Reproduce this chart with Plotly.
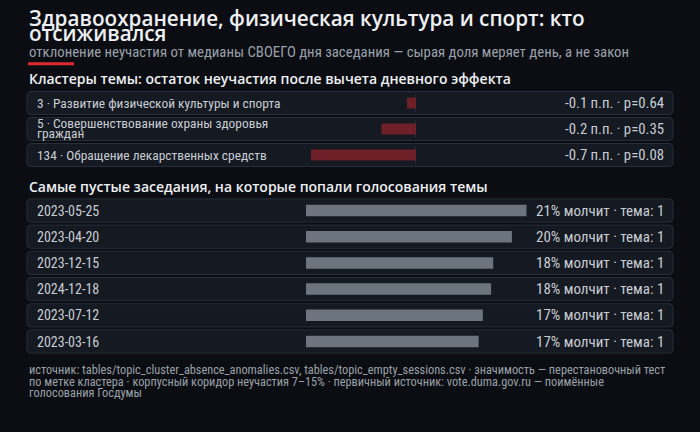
import textwrap
import plotly.graph_objects as go

W, H = 700, 432

# ---------------- data ----------------
title_lines = ["Здравоохранение, физическая культура и спорт: кто", "отсиживался"]
subtitle = "отклонение неучастия от медианы СВОЕГО дня заседания — сырая доля меряет день, а не закон"
cluster_header = "Кластеры темы: остаток неучастия после вычета дневного эффекта"
session_header = "Самые пустые заседания, на которые попали голосования темы"

cluster_ids = [3, 5, 134]
cluster_names = ["Развитие физической культуры и спорта",
                 "Совершенствование охраны здоровья граждан",
                 "Обращение лекарственных средств"]
cluster_delta_pp = [-0.06, -0.23, -0.70]
cluster_p = [0.64, 0.35, 0.08]

session_dates = ["2023-05-25", "2023-04-20", "2023-12-15", "2024-12-18", "2023-07-12", "2023-03-16"]
session_absent_pct = [21.2, 19.8, 18.0, 17.8, 17.0, 16.6]
session_topic_votes = [1, 1, 1, 1, 1, 1]

footer_lines = [
    "источник: tables/topic_cluster_absence_anomalies.csv, tables/topic_empty_sessions.csv · значимость — перестановочный тест",
    "по метке кластера · корпусный коридор неучастия 7–15% · первичный источник: vote.duma.gov.ru — поимённые",
    "голосования Госдумы",
]

# ---------------- style ----------------
BG = "#0b0d12"
PANEL = "#141922"
PANEL_LINE = "#272e3a"
RED_BAR = "#6e1f27"
GRAY_BAR = "#6c757d"
FONT = "Roboto Condensed"
HEAD_FONT = "Open Sans"


def px(x):
    return x / W


def py(y):
    return 1 - y / H


def rounded_rect(x0, y0, x1, y1, r=4):
    X0, X1 = px(x0), px(x1)
    Y0, Y1 = py(y0), py(y1)
    rx, ry = r / W, r / H
    return (f"M{X0 + rx},{Y0} L{X1 - rx},{Y0} Q{X1},{Y0} {X1},{Y0 - ry} "
            f"L{X1},{Y1 + ry} Q{X1},{Y1} {X1 - rx},{Y1} L{X0 + rx},{Y1} "
            f"Q{X0},{Y1} {X0},{Y1 + ry} L{X0},{Y0 - ry} Q{X0},{Y0} {X0 + rx},{Y0} Z")


fig = go.Figure()
shapes = []
ann = []


def text(x, y, s, size, color, anchor="left", family=FONT, weight=400):
    ann.append(dict(x=px(x), y=py(y), xref="paper", yref="paper", text=s, showarrow=False,
                    xanchor=anchor, yanchor="middle", align=anchor,
                    font=dict(family=family, size=size, color=color, weight=weight)))


# title + subtitle
text(27, 18.3, title_lines[0], 20.7, "#eef0f3", family=HEAD_FONT, weight=600)
text(27, 32.5, title_lines[1], 20.7, "#eef0f3", family=HEAD_FONT, weight=600)
text(27, 52, subtitle, 14.8, "#9aa1ab")
shapes.append(dict(type="rect", xref="paper", yref="paper", x0=px(28), x1=px(74), y0=py(65.3), y1=py(62.2),
                   fillcolor="#e0282e", line_width=0))

# ---------------- clusters ----------------
text(27, 78.5, cluster_header, 14, "#eef0f3", family=HEAD_FONT, weight=600)
C_TOP, C_STEP = 90, 26
n_c = len(cluster_ids)
for i in range(n_c):
    top = C_TOP + i * C_STEP + 1.5
    shapes.append(dict(type="path", path=rounded_rect(27, top, 673, top + 23), xref="paper", yref="paper",
                       fillcolor=PANEL, line=dict(color=PANEL_LINE, width=1), layer="below"))
    shapes.append(dict(type="line", xref="x", yref="paper", x0=0, x1=0, y0=py(top + 3), y1=py(top + 20),
                       line=dict(color="#3a4250", width=1), layer="below"))
    label = f"{cluster_ids[i]} · {cluster_names[i]}"
    lines = textwrap.wrap(label, 42)
    cy = top + 11.5
    if len(lines) == 1:
        text(35, cy, lines[0], 13.4, "#c9cdd3")
    else:
        text(35, cy - 5, lines[0], 13.4, "#c9cdd3")
        text(35, cy + 5, lines[1], 13.4, "#c9cdd3")
    text(666, cy, f"{cluster_delta_pp[i]:.1f} п.п. · p={cluster_p[i]:.2f}", 14.8, "#c9cdd3", anchor="right")

fig.add_trace(go.Bar(x=cluster_delta_pp, y=list(range(n_c)), orientation="h", width=0.42,
                     marker=dict(color=RED_BAR, line_width=0), hoverinfo="skip", xaxis="x", yaxis="y"))

# ---------------- sessions ----------------
text(27, 186, session_header, 14, "#eef0f3", family=HEAD_FONT, weight=600)
S_TOP, S_STEP = 197.4, 26.2
n_s = len(session_dates)
for i in range(n_s):
    top = S_TOP + i * S_STEP + 1.5
    shapes.append(dict(type="path", path=rounded_rect(27, top, 673, top + 23.2), xref="paper", yref="paper",
                       fillcolor=PANEL, line=dict(color=PANEL_LINE, width=1), layer="below"))
    cy = top + 11.6
    text(35, cy, session_dates[i], 14, "#c9cdd3")
    text(666, cy, f"{session_absent_pct[i]:.0f}% молчит · тема: {session_topic_votes[i]}", 15, "#c9cdd3",
         anchor="right")

fig.add_trace(go.Bar(x=session_absent_pct, y=list(range(n_s)), orientation="h", width=0.44,
                     marker=dict(color=GRAY_BAR, line_width=0), hoverinfo="skip", xaxis="x2", yaxis="y2"))

# footer
for j, line in enumerate(footer_lines):
    text(27, 370 + j * 11.5, line, 12.3, "#9aa0a8")

ax = dict(showgrid=False, zeroline=False, showticklabels=False, ticks="", fixedrange=True)
fig.update_layout(
    width=W, height=H, margin=dict(l=0, r=0, t=0, b=0),
    paper_bgcolor=BG, plot_bgcolor="rgba(0,0,0,0)", showlegend=False, barmode="overlay",
    xaxis=dict(ax, domain=[px(266), px(416)], range=[-1, 0]),
    yaxis=dict(ax, domain=[py(C_TOP + n_c * C_STEP), py(C_TOP)], range=[n_c - 0.5, -0.5]),
    xaxis2=dict(ax, domain=[px(306), px(618)], range=[0, 30], anchor="y2"),
    yaxis2=dict(ax, domain=[py(S_TOP + n_s * S_STEP), py(S_TOP)], range=[n_s - 0.5, -0.5], anchor="x2"),
    shapes=shapes, annotations=ann,
)

fig.write_html("out.html", config={"displayModeBar": False},
               post_script="document.body.style.margin='0';document.body.style.background='%s';" % BG)
